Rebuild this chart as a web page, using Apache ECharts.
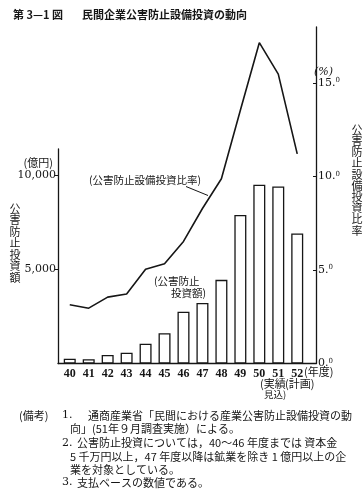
<!DOCTYPE html>
<html><head><meta charset="utf-8">
<script src="https://cdn.jsdelivr.net/npm/echarts@6/dist/echarts.min.js"></script>
<style>html,body{margin:0;padding:0;background:#fff}#c{width:364px;height:497px}</style>
</head><body><div id="c"></div>
<script>
const years = [40, 41, 42, 43, 44, 45, 46, 47, 48, 49, 50, 51, 52];
const investment = [255, 223, 452, 574, 1052, 1605, 2752, 3215, 4437, 7875, 9485, 9394, 6897]; // 億円
const ratio = [3.14, 2.96, 3.55, 3.72, 5.04, 5.34, 6.53, 8.29, 9.88, 13.55, 17.16, 15.48, 11.21]; // %
const leftTicks = [5000, 10000];
const rightTicks = [0, 5, 10, 15];

const CJK = '"Noto Sans CJK JP", sans-serif';
const SERIF = '"DejaVu Serif", serif';
const INK = '#161616';

const chart = echarts.init(document.getElementById('c'), null, {renderer: 'canvas'});
const xCommon = {type: 'value', min: 39.38, max: 52.99, splitLine: {show: false}};
const vert = s => s.split('').join('\n');
const gText = (x, y, text, style) => ({type: 'text', x: x, y: y, style: Object.assign({text: text, fill: INK, font: '11px ' + CJK, textVerticalAlign: 'middle'}, style || {})});

chart.setOption({
  animation: false,
  backgroundColor: '#fff',
  grid: [
    {left: 58, right: 48, top: 149, bottom: 133.5},
    {left: 58, right: 48, top: 27, bottom: 133.5}
  ],
  xAxis: [
    Object.assign({}, xCommon, {gridIndex: 0,
      axisLine: {show: true, onZero: false, lineStyle: {color: INK, width: 1.3}},
      axisTick: {show: false},
      axisLabel: {customValues: years, formatter: v => String(Math.round(v)), color: INK,
        fontFamily: '"Liberation Serif", serif', fontSize: 12, fontWeight: 'bold', margin: 4}
    }),
    Object.assign({}, xCommon, {gridIndex: 1, show: false})
  ],
  yAxis: [
    {type: 'value', gridIndex: 0, position: 'left', min: 0, max: 11380,
      splitLine: {show: false},
      axisLine: {show: true, lineStyle: {color: INK, width: 1.3}},
      axisTick: {show: true, customValues: leftTicks, length: 3, lineStyle: {color: INK}},
      axisLabel: {customValues: leftTicks, color: INK, fontFamily: SERIF, fontSize: 11, margin: 2,
        formatter: v => v.toLocaleString('en-US')}
    },
    {type: 'value', gridIndex: 1, position: 'right', min: 0, max: 18,
      splitLine: {show: false},
      axisLine: {show: true, lineStyle: {color: INK, width: 1.3}},
      axisTick: {show: true, inside: true, customValues: rightTicks, length: 3, lineStyle: {color: INK}},
      axisLabel: {customValues: rightTicks, color: INK, margin: 2,
        formatter: v => '{a|' + v + '.}{b|0}',
        rich: {a: {fontFamily: SERIF, fontSize: 11, color: INK}, b: {fontFamily: SERIF, fontSize: 7, color: INK, padding: [0, 0, 5, 0]}}}
    }
  ],
  series: [
    {type: 'bar', xAxisIndex: 0, yAxisIndex: 0, barWidth: 12,
      data: years.map((y, i) => [y, investment[i]]),
      itemStyle: {color: '#fff', borderColor: INK, borderWidth: 1.3}},
    {type: 'line', xAxisIndex: 1, yAxisIndex: 1, symbol: 'none',
      data: years.map((y, i) => [y, ratio[i]]),
      lineStyle: {color: INK, width: 1.6}}
  ],
  graphic: [
    gText(13, 15, '第 3—1 図', {font: 'bold 11px ' + CJK}),
    gText(82, 15, '民間企業公害防止設備投資の動向', {font: 'bold 11px ' + CJK}),
    gText(53, 163, '(億円)', {textAlign: 'right', font: '11px ' + CJK}),
    gText(15, 243, vert('公害防止投資額'), {textAlign: 'center', font: '11px ' + CJK, lineHeight: 11.5}),
    gText(357, 180, vert('公害防止設備投資比率'), {textAlign: 'center', font: '11px ' + CJK, lineHeight: 11.2}),
    gText(314, 72, '(%)', {font: 'italic 11px ' + SERIF}),
    gText(89, 180, '(公害防止設備投資比率)', {font: '10.5px ' + CJK}),
    {type: 'line', shape: {x1: 186, y1: 186.5, x2: 208, y2: 195.5}, style: {stroke: INK, lineWidth: 1}},
    gText(154, 281.5, '(公害防止', {font: '10.5px ' + CJK}),
    gText(171, 293.5, '投資額)', {font: '10.5px ' + CJK}),
    gText(304, 372, '(年度)', {font: '11px ' + CJK}),
    gText(260, 384, '(実績', {font: '11px ' + CJK}),
    gText(285, 384, '(計画)', {font: '11px ' + CJK}),
    gText(264, 394, '見込)', {font: '9.5px ' + CJK}),
    gText(19, 415.5, '(備考)', {font: '11px ' + CJK}),
    gText(62, 415.5, '1.', {font: '11px ' + SERIF}),
    gText(88, 415.5, '通商産業省「民間における産業公害防止設備投資の動', {font: '11px ' + CJK}),
    gText(70, 428.5, '向」(51年９月調査実施）による。', {font: '11px ' + CJK}),
    gText(62, 443, '2.', {font: '11px ' + SERIF}),
    gText(77, 443, '公害防止投資については，40～46 年度までは 資本金', {font: '11px ' + CJK}),
    gText(70, 456.5, '5 千万円以上，47 年度以降は鉱業を除き 1 億円以上の企', {font: '11px ' + CJK}),
    gText(70, 469.5, '業を対象としている。', {font: '11px ' + CJK}),
    gText(62, 482.5, '3.', {font: '11px ' + SERIF}),
    gText(77, 482.5, '支払ベースの数値である。', {font: '11px ' + CJK})
  ]
});
</script>
</body></html>
